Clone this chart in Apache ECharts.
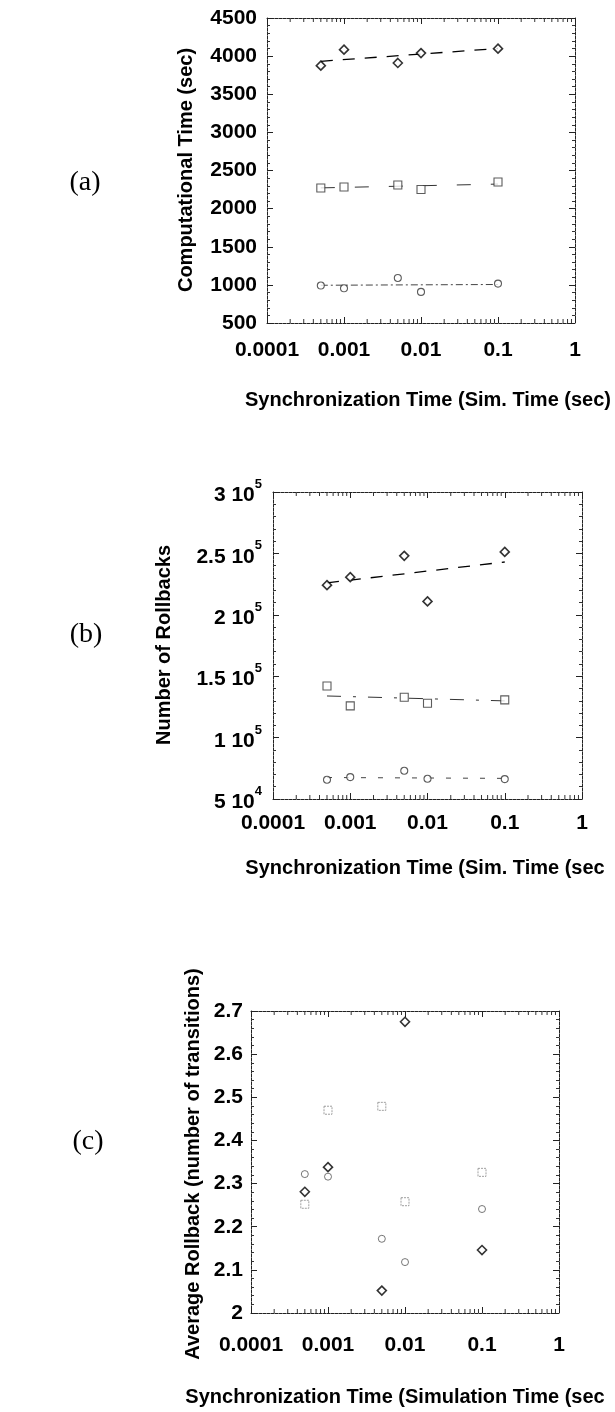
<!DOCTYPE html>
<html><head><meta charset="utf-8">
<script src="https://cdn.jsdelivr.net/npm/echarts@6/dist/echarts.min.js"></script>
<style>html,body{margin:0;padding:0;background:#fff}#c{width:615px;height:1412px}</style>
</head><body><div id="c"></div><script>
// ---- data ----
const syncTimes = [0.0005, 0.001, 0.005, 0.01, 0.1];
const xTickValues = [0.0001, 0.001, 0.01, 0.1, 1];
const fitX = [0.0005, 0.1];
// (a) Computational time (sec)
const compDiamond = [3875, 4085, 3910, 4040, 4098];
const compSquare  = [2271, 2284, 2310, 2250, 2350];
const compCircle  = [991, 955, 1091, 908, 1017];
const compFitDiamond = [3932, 4100];
const compFitSquare  = [2272, 2322];
const compFitCircle  = [995, 1005];
// (b) Number of rollbacks
const rollDiamond = [224150, 230650, 247990, 210880, 251240];
const rollSquare  = [142060, 125810, 132850, 127980, 130690];
const rollCircle  = [65670, 67840, 72990, 66480, 66220];
const rollFitDiamond = [226000, 243000];
const rollFitSquare  = [133900, 129900];
const rollFitCircle  = [67500, 66800];
// (c) Average rollback (number of transitions)
const avgDiamond = [2.281, 2.338, 2.052, 2.675, 2.146];
const avgSquare  = [2.252, 2.470, 2.479, 2.258, 2.326];
const avgCircle  = [2.322, 2.316, 2.172, 2.118, 2.241];
// axis ranges
const yRangeA = [500, 4500, 500];
const yRangeB = [50000, 300000, 50000];
const yRangeC = [2, 2.7, 0.1];

// ---- layout ----
const FONT = 'Liberation Sans';
const grids = [
  {left: 267, top: 18, width: 308, height: 305},
  {left: 273, top: 492, width: 309, height: 307},
  {left: 251, top: 1011, width: 308, height: 302}
];
const yRanges = [yRangeA, yRangeB, yRangeC];
const xLabelMargins = [17, 14, 22];
const yLabelMargins = [10, 11, 8];

const frameLine = {color: '#222', width: 1, type: [3, 1]};

function supFormat(v) {
  const e = Math.floor(Math.log10(v) + 1e-9);
  const m = +(v / Math.pow(10, e)).toFixed(2);
  return '{m|' + m + ' 10}{s|' + e + '}';
}
function plainFormat(v) { return String(+v.toFixed(2)); }

const xAxes = [], yAxes = [];
grids.forEach((g, i) => {
  const xCommon = {
    type: 'log', logBase: 10, min: xTickValues[0], max: xTickValues[xTickValues.length - 1],
    gridIndex: i, splitLine: {show: false},
    axisLine: {show: true, lineStyle: frameLine},
    axisTick: {show: true, inside: true, length: 6, lineStyle: {color: '#222'}}
  };
  xAxes.push(Object.assign({}, xCommon, {
    position: 'bottom',
    axisLabel: {show: true, margin: xLabelMargins[i], fontFamily: FONT, fontWeight: 'bold', fontSize: 21, color: '#000',
      formatter: v => String(+v.toPrecision(1))}
  }));
  xAxes.push(Object.assign({}, xCommon, {position: 'top', axisLabel: {show: false}}));
  const r = yRanges[i];
  const yCommon = {
    type: 'value', min: r[0], max: r[1], interval: r[2], gridIndex: i,
    splitLine: {show: false},
    axisLine: {show: true, lineStyle: frameLine},
    axisTick: {show: true, inside: true, length: 6, lineStyle: {color: '#222'}},
    minorTick: {show: true, splitNumber: 5, length: 3, lineStyle: {color: '#333'}}
  };
  const lbl = {show: true, margin: yLabelMargins[i], fontFamily: FONT, fontWeight: 'bold', fontSize: 21, color: '#000',
    formatter: plainFormat};
  if (i === 1) {
    lbl.formatter = supFormat;
    lbl.rich = {
      m: {fontFamily: FONT, fontWeight: 'bold', fontSize: 21, color: '#000', lineHeight: 28, verticalAlign: 'bottom'},
      s: {fontFamily: FONT, fontWeight: 'bold', fontSize: 13, color: '#000', lineHeight: 28, verticalAlign: 'top'}
    };
  }
  yAxes.push(Object.assign({}, yCommon, {position: 'left', axisLabel: lbl}));
  yAxes.push(Object.assign({}, yCommon, {position: 'right', axisLabel: {show: false}}));
});

// log minor tick positions (2..9 per decade), axis decoration only
const logMinor = [];
for (let k = -4; k < 0; k++) for (let m = 2; m <= 9; m++) logMinor.push(+(m * Math.pow(10, k)).toPrecision(2));

const series = [];
grids.forEach((g, i) => {
  const r = yRanges[i];
  series.push({
    type: 'custom', xAxisIndex: 2 * i, yAxisIndex: 2 * i, silent: true, z: 1,
    data: logMinor.map(x => [x, r[0], r[1]]),
    renderItem: (params, api) => {
      const p1 = api.coord([api.value(0), api.value(1)]);
      const p2 = api.coord([api.value(0), api.value(2)]);
      return {type: 'group', children: [
        {type: 'line', shape: {x1: p1[0], y1: p1[1], x2: p1[0], y2: p1[1] - 4}, style: {stroke: '#333', lineWidth: 1}},
        {type: 'line', shape: {x1: p2[0], y1: p2[1], x2: p2[0], y2: p2[1] + 4}, style: {stroke: '#333', lineWidth: 1}}
      ]};
    }
  });
});

function pts(ys) { return syncTimes.map((x, j) => [x, ys[j]]); }
function fit(ys) { return fitX.map((x, j) => [x, ys[j]]); }

function scatter(i, ys, kind) {
  const st = {
    diamond: {symbol: 'diamond', size: 9, w: 1.6, c: '#000'},
    square:  {symbol: 'rect', size: 8, w: 1.1, c: '#333'},
    circle:  {symbol: 'circle', size: 7, w: 1.1, c: '#333'}
  }[kind];
  return {
    type: 'scatter', xAxisIndex: 2 * i, yAxisIndex: 2 * i, data: pts(ys), z: 5,
    symbol: st.symbol, symbolSize: st.size,
    itemStyle: {color: '#fff', borderColor: st.c, borderWidth: st.w}
  };
}
function fitLine(i, ys, dash, width, color) {
  return {
    type: 'line', xAxisIndex: 2 * i, yAxisIndex: 2 * i, data: fit(ys), z: 3,
    showSymbol: false, symbol: 'none', silent: true,
    lineStyle: {color: color, width: width, type: dash}
  };
}

// (a)
series.push(fitLine(0, compFitDiamond, [12, 10], 1.3, '#000'));
series.push(fitLine(0, compFitSquare, [14, 20], 1, '#333'));
series.push(fitLine(0, compFitCircle, [7, 3, 2, 3], 1, '#444'));
series.push(scatter(0, compDiamond, 'diamond'));
series.push(scatter(0, compSquare, 'square'));
series.push(scatter(0, compCircle, 'circle'));
// (b)
series.push(fitLine(1, rollFitDiamond, [12, 10], 1.3, '#000'));
series.push(fitLine(1, rollFitSquare, [14, 12, 3, 12], 1, '#333'));
series.push(fitLine(1, rollFitCircle, [5, 12], 1, '#444'));
series.push(scatter(1, rollDiamond, 'diamond'));
series.push(scatter(1, rollSquare, 'square'));
series.push(scatter(1, rollCircle, 'circle'));
// (c)
series.push(scatter(2, avgDiamond, 'diamond'));
series.push(Object.assign(scatter(2, avgSquare, 'square'), {itemStyle: {color: '#fff', borderColor: '#888', borderWidth: 1, borderType: [2, 1]}}));
series.push(Object.assign(scatter(2, avgCircle, 'circle'), {itemStyle: {color: '#fff', borderColor: '#555', borderWidth: 1}}));

function txt(x, y, text, opts) {
  return {
    type: 'text', x: x, y: y,
    style: Object.assign({text: text, fill: '#000', font: 'bold 20px "' + FONT + '"', textAlign: 'center', textVerticalAlign: 'middle'}, opts || {})
  };
}
function vtxt(x, y, text) {
  const t = txt(x, y, text);
  t.rotation = Math.PI / 2;
  return t;
}
const serif = {font: '28px "Liberation Serif"'};

const chart = echarts.init(document.getElementById('c'), null, {renderer: 'canvas'});
chart.setOption({
  animation: false,
  backgroundColor: '#fff',
  grid: grids.map(g => Object.assign({containLabel: false}, g)),
  xAxis: xAxes,
  yAxis: yAxes,
  series: series,
  graphic: [
    txt(85, 183, '(a)', serif),
    txt(86, 635, '(b)', serif),
    txt(88, 1142, '(c)', serif),
    vtxt(186, 170, 'Computational Time (sec)'),
    vtxt(164, 645, 'Number of Rollbacks'),
    vtxt(193, 1164, 'Average Rollback (number of transitions)'),
    txt(428, 400, 'Synchronization Time (Sim. Time (sec)'),
    txt(425, 868, 'Synchronization Time (Sim. Time (sec'),
    txt(395, 1397, 'Synchronization Time (Simulation Time (sec')
  ]
});
</script></body></html>
